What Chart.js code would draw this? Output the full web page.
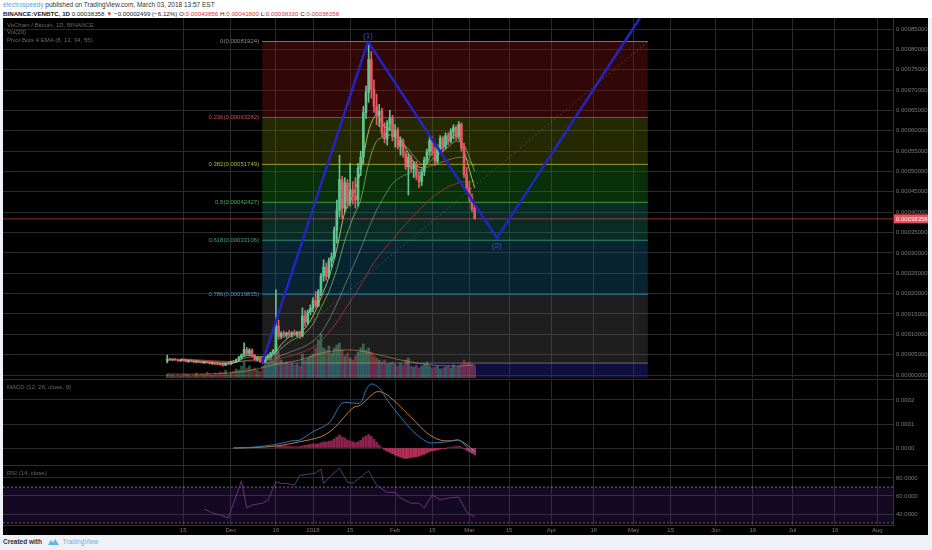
<!DOCTYPE html>
<html>
<head>
<meta charset="utf-8">
<script src="https://cdn.jsdelivr.net/npm/chart.js@4.4.1/dist/chart.umd.min.js"></script>
<style>
  html, body { margin: 0; padding: 0; }
  body { width: 932px; height: 550px; background: #eef1f5; position: relative; overflow: hidden;
         font-family: "Liberation Sans", Arial, sans-serif; }
  #hdr { position: absolute; left: 0; top: 0; width: 932px; height: 18px; background: #fff; }
  .l1 { position: absolute; left: 3px; top: 1px; font-size: 6.5px; color: #333; white-space: nowrap; }
  .l2 { position: absolute; left: 3px; top: 10px; font-size: 6.2px; color: #222; white-space: nowrap; }
  .user { color: #5a9fd8; }
  .red { color: #e0303e; }
  #panel { position: absolute; left: 3px; top: 18px; width: 925px; height: 517px; background: #000; }
  #panel canvas { position: absolute; left: 0; }
  .sep { position: absolute; left: 0; width: 925px; height: 1px; background: #2e2e2e; }
  #foot { position: absolute; left: 3px; top: 538px; font-size: 6.5px; white-space: nowrap; color: #444; }
  #foot b { color: #333; }
  #foot .tv { color: #5fb4e6; }
</style>
</head>
<body>
<div id="hdr">
  <div class="l1"><span class="user">electrospeedy</span> published on TradingView.com, March 03, 2018 13:57 EST</div>
  <div class="l2"><b>BINANCE:VENBTC, 1D</b> 0.00038358 <span class="red">&#9660;</span> &minus;0.00002499 (&minus;6.12%) O:<span class="red">0.00040856</span> H:<span class="red">0.00041800</span> L:<span class="red">0.00038330</span> C:<span class="red">0.00038358</span></div>
</div>
<div id="panel">
  <canvas id="main" width="925" height="360" style="top:0"></canvas>
  <div class="sep" style="top:361px"></div>
  <canvas id="macd" width="925" height="85" style="top:362px"></canvas>
  <div class="sep" style="top:447px"></div>
  <canvas id="rsi" width="925" height="69" style="top:448px"></canvas>
</div>
<div id="foot"><b>Created with</b>
  <svg width="11" height="6" viewBox="0 0 11 6" style="vertical-align:middle;margin:0 2px 0 4px"><path d="M0 6 L3 1 L5 4 L7 0 L11 6 Z" fill="#5fb4e6"/></svg>
  <span class="tv">TradingView</span></div>

<script>
// prices are in units of 0.00001 BTC, x values are days from 1 Jan 2018
const tickDays = [-49, -31, -14, 0, 14, 31, 45, 59, 74, 90, 106, 121, 135, 152, 166, 181, 197, 213];
const tickLabels = ['15', 'Dec', '16', '2018', '15', 'Feb', '15', 'Mar', '15', 'Apr', '16', 'May', '15', 'Jun', '16', 'Jul', '16', 'Aug'];
const priceTicks = [0, 5, 10, 15, 20, 25, 30, 35, 40, 45, 50, 55, 60, 65, 70, 75, 80, 85];
const macdTicks = [0, 10, 20];
const rsiTicks = [40, 60, 80];

// daily candles, first one on day -55
const firstDay = -55;
const candleOpen = [
  3.4, 3.9, 3.7, 3.8, 3.7, 3.5, 3.6, 3.5, 3.3, 3.5,
  3.3, 3.2, 3.3, 3.1, 3.0, 3.1, 3.0, 2.8, 2.9, 2.7,
  2.6, 2.5, 2.4, 2.8, 2.7, 3.3, 3.2, 3.8, 4.3, 4.9,
  6.3, 5.3, 6.1, 4.8, 3.9, 4.1, 3.4, 3.2, 4.2, 4.6,
  5.4, 5.9, 12.0, 9.5, 10.2, 9.8, 10.3, 9.9, 10.4, 9.9,
  10.3, 9.6, 14.5, 13.0, 15.5, 16.4, 18.3, 17.0, 20.5, 24.3,
  26.5, 24.2, 28.0, 29.0, 35.5, 40.5, 48.0, 41.0, 47.2, 42.5,
  45.5, 44.0, 43.0, 50.8, 53.5, 64.5, 69.5, 77.5, 70.2, 66.0,
  63.8, 64.8, 59.5, 58.0, 61.8, 63.2, 58.5, 60.2, 56.2, 57.5,
  54.3, 51.2, 53.5, 50.6, 51.8, 48.8, 47.5, 50.0, 52.8, 54.8,
  57.6, 55.0, 52.5, 55.8, 58.2, 56.0, 58.8, 57.5, 59.8, 60.8,
  58.6, 61.6, 55.8, 49.2, 46.0, 43.6, 40.856
];
const candleHigh = [
  4.9, 4.1, 3.9, 4.0, 3.9, 3.8, 3.8, 3.7, 3.6, 3.7,
  3.5, 3.4, 3.5, 3.3, 3.2, 3.3, 3.2, 3.0, 3.1, 2.9,
  2.8, 2.7, 2.9, 3.2, 3.4, 3.6, 3.9, 4.6, 5.2, 7.9,
  6.8, 6.5, 6.4, 5.1, 4.4, 4.3, 3.8, 4.4, 5.0, 5.6,
  6.3, 20.9, 13.5, 10.6, 10.8, 10.5, 10.9, 10.6, 11.0, 10.7,
  10.8, 16.5, 15.8, 16.0, 17.2, 19.0, 20.5, 21.0, 25.0, 28.3,
  27.5, 28.7, 30.0, 36.4, 43.0, 54.0, 48.8, 48.5, 48.0, 52.0,
  47.5, 48.5, 52.0, 55.0, 66.0, 71.0, 81.924, 79.5, 72.5, 69.0,
  66.5, 65.5, 62.0, 62.5, 65.0, 63.8, 61.5, 60.8, 58.5, 58.0,
  55.0, 54.5, 54.0, 52.5, 52.5, 50.0, 50.5, 53.5, 55.5, 58.5,
  58.5, 56.0, 56.5, 58.8, 58.6, 59.5, 59.5, 60.5, 61.5, 61.2,
  62.3, 62.0, 57.0, 51.0, 47.5, 44.5, 41.8
];
const candleLow = [
  3.0, 3.6, 3.5, 3.6, 3.4, 3.3, 3.4, 3.2, 3.1, 3.2,
  3.0, 3.0, 3.0, 2.9, 2.8, 2.9, 2.7, 2.6, 2.6, 2.5,
  2.4, 2.2, 2.3, 2.6, 2.6, 3.0, 3.0, 3.5, 4.0, 4.6,
  5.0, 4.8, 4.5, 3.6, 3.4, 3.1, 2.93, 3.1, 3.9, 4.3,
  5.0, 5.7, 8.8, 8.9, 9.3, 9.2, 9.5, 9.3, 9.6, 9.4,
  9.0, 9.3, 12.0, 12.5, 14.8, 15.5, 16.5, 16.8, 19.5, 23.0,
  23.3, 23.8, 26.5, 28.5, 32.4, 38.8, 38.5, 40.0, 41.0, 41.5,
  42.0, 41.0, 41.5, 49.0, 52.0, 63.0, 67.0, 68.0, 64.5, 61.5,
  61.0, 58.5, 57.0, 56.5, 60.0, 57.5, 56.0, 55.5, 54.0, 53.5,
  50.5, 44.2, 50.0, 48.5, 48.0, 46.0, 46.5, 49.0, 52.0, 54.0,
  54.0, 51.5, 52.0, 55.0, 54.8, 55.5, 56.5, 57.0, 58.0, 57.8,
  58.0, 55.0, 48.5, 45.0, 42.5, 40.2, 38.33
];
const candleClose = [
  3.9, 3.7, 3.8, 3.7, 3.5, 3.6, 3.5, 3.3, 3.5, 3.3,
  3.2, 3.3, 3.1, 3.0, 3.1, 3.0, 2.8, 2.9, 2.7, 2.6,
  2.5, 2.4, 2.8, 2.7, 3.3, 3.2, 3.8, 4.3, 4.9, 6.3,
  5.3, 6.1, 4.8, 3.9, 4.1, 3.4, 3.2, 4.2, 4.6, 5.4,
  5.9, 12.0, 9.5, 10.2, 9.8, 10.3, 9.9, 10.4, 9.9, 10.3,
  9.6, 14.5, 13.0, 15.5, 16.4, 18.3, 17.0, 20.5, 24.3, 26.5,
  24.2, 28.0, 29.0, 35.5, 40.5, 48.0, 41.0, 47.2, 42.5, 45.5,
  44.0, 43.0, 50.8, 53.5, 64.5, 69.5, 77.5, 70.2, 66.0, 63.8,
  64.8, 59.5, 58.0, 61.8, 63.2, 58.5, 60.2, 56.2, 57.5, 54.3,
  51.2, 53.5, 50.6, 51.8, 48.8, 47.5, 50.0, 52.8, 54.8, 57.6,
  55.0, 52.5, 55.8, 58.2, 56.0, 58.8, 57.5, 59.8, 60.8, 58.6,
  61.6, 55.8, 49.2, 46.0, 43.6, 40.856, 38.358
];
const volume = [
  4, 3, 3, 2, 3, 2, 3, 4, 3, 2, 3, 5, 3, 4, 3, 6, 4, 3, 5, 4, 6, 5, 8, 4, 5,
  7, 9, 8, 12, 16, 10, 12, 9, 10, 8, 7, 12,
  14, 16, 20, 18, 34, 26, 18, 15, 16, 14, 15, 13, 14, 12,
  24, 18, 20, 22, 24, 30, 38, 44, 30, 28, 32, 25, 30, 33, 35,
  28, 22, 25, 20, 18, 22, 26, 30, 34, 28, 30, 26, 22, 20, 18, 16, 18, 14, 15, 16,
  14, 12, 15, 13, 18, 20, 12, 11, 13, 10, 12, 14, 16, 12, 10, 11, 12, 9, 10, 11, 12, 10, 13, 11, 12, 14, 18, 15, 16, 14, 12
];
const volMaDays = [-55, -40, -25, -15, -5, 5, 15, 25, 35, 45, 55, 61];
const volMa = [4, 4, 7, 13, 18, 26, 28, 23, 17, 13, 12, 13];

// EMA (8, 13, 34, 55)
const maDays = [-50, -40, -30, -25, -20, -15, -12, -8, -4, 0, 3, 6, 9, 12, 15, 18, 21, 24, 27, 30, 33, 36, 39, 42, 45, 48, 51, 54, 57, 59, 61];
const ema8 = [3.7, 3.1, 2.9, 4.8, 4.4, 5.0, 7.5, 9.8, 10.8, 14.5, 19, 24, 31, 40, 44, 50, 60, 64, 61, 60, 58, 54.5, 51.5, 51, 54.5, 55.5, 57.3, 59, 55, 50.5, 46];
const ema13 = [3.8, 3.2, 3.0, 4.3, 4.4, 4.6, 6.5, 8.5, 9.8, 12.5, 16.5, 20.5, 26, 33, 38.5, 43, 52, 57.5, 58.5, 59, 57.5, 55.5, 53, 51.5, 53, 54.5, 56, 57.5, 56.5, 53.5, 50];
const ema34 = [3.9, 3.4, 3.1, 3.6, 3.8, 4.0, 4.8, 5.8, 6.8, 8.3, 10.3, 13.5, 17.5, 22, 26.5, 31, 36, 40.5, 44, 47, 48.6, 49.5, 50.2, 50.8, 51.5, 52.2, 52.8, 53.4, 53.4, 52.5, 51.3];
const ema55 = [4.0, 3.6, 3.3, 3.4, 3.5, 3.6, 4.1, 4.8, 5.6, 6.8, 8.3, 10.5, 13, 16, 19, 22, 25.5, 28.5, 31, 33.2, 35.6, 37.8, 39.8, 41.8, 43.6, 45, 46.2, 47, 47.5, 47.6, 47.6];

// fibonacci retracement
const fibStart = -19.2, fibEnd = 126.4;
const fibRatios = ['0', '0.236', '0.382', '0.5', '0.618', '0.786', '1'];
const fibLevels = [81.924, 63.282, 51.749, 42.427, 33.106, 19.835, 2.93];

// wave drawing (1)-(2)
const waveDays = [-19.2, 20.75, 69.4, 123.4];
const waveValues = [2.93, 81.924, 33.66, 87.7];
const waveLabels = ['', '(1)', '(2)', ''];

// MACD (12, 26, close, 9), units of 0.00001
const macdDays = [-30, -22, -14, -8, -5, 0, 6, 11, 15, 18, 20, 22, 25, 28, 33, 38, 43, 45, 50, 55, 58, 60, 61];
const macdLine = [0.0, 0.4, 1.5, 3.0, 3.3, 6.8, 10.4, 18.7, 18.7, 18.9, 24.2, 26.7, 25.0, 20.0, 12.9, 6.7, 2.5, 2.1, 2.5, 3.3, 0.4, -1.7, -2.0];
const signalDays = [-30, -22, -14, -5, 3, 8, 15, 18, 23, 25, 28, 33, 38, 43, 48, 53, 55, 59, 61];
const signalLine = [0.0, 0.2, 0.8, 2.6, 4.7, 8.3, 16.7, 17.9, 22.9, 23.5, 22.1, 17.2, 11.7, 6.25, 3.3, 3.0, 3.3, 0.54, -1.5];
const histFirstDay = -14;
const macdHist = [
  0.3, 0.8, 0.9, 0.9, 0.8, 0.7, 0.6, 0.5, 0.5, 0.6,
  0.9, 1.1, 1.3, 1.5, 1.7,
  1.6, 1.8, 2.2, 2.6, 2.5, 2.8, 3.0, 3.8, 4.6, 5.4,
  4.6, 4.2, 3.4, 3.0, 2.6, 2.2, 2.6, 3.2, 4.4, 5.0,
  5.6, 4.8, 3.6, 2.4, 1.2, 0.2, -0.8, -1.4, -1.8, -2.4,
  -3.0, -3.4, -3.8, -4.2, -4.4, -4.2, -4.0, -3.8, -3.6, -3.4,
  -3.0, -2.6, -2.0, -1.5, -1.2, -1.0, -0.8, -0.5, -0.3, -0.1,
  0.2, 0.4, 0.5, 0.6, 0.7, 0.4, -0.3, -1.0, -1.6, -2.2, -2.8
];

// RSI (14, close)
const rsiDays = [-41, -38, -35, -32, -30, -27, -25, -23, -19, -17, -14, -12, -10, -7, -5, -2, 1, 3, 4, 7, 10, 13, 15, 18, 21, 24, 28, 31, 33, 37, 40, 42, 45, 48, 51, 55, 58, 61];
const rsiValues = [45.6, 41, 39, 35.5, 52, 76.7, 46.7, 50, 52, 55.6, 75.6, 74, 74, 72, 83, 84, 85.6, 90, 74, 83, 91, 75.6, 74, 81, 87.8, 72, 64, 64, 57.8, 52, 52, 46.7, 61, 55.6, 57.8, 58.9, 42, 36.7];
const rsiBands = [70, 30];

// ---------------------------------------------------------------
const xMin = -117, xMax = 218.9;
const gridColor = '#2a2a2a';
const axisText = '#7a7a7a';
const upColor = '#5fc490', downColor = '#e65a66';
const fibLineColors = ['#7a7a7a', '#b83c3c', '#9a9a2a', '#3a9a3a', '#2e8a70', '#2e7898', '#6a6a6a'];
const fibBandColors = ['rgba(150,22,22,0.33)', 'rgba(120,135,12,0.3)', 'rgba(25,140,25,0.34)', 'rgba(30,150,120,0.3)',
                       'rgba(25,110,150,0.33)', 'rgba(100,100,100,0.3)', 'rgba(40,40,175,0.36)'];
const fibLabelColors = ['#8a8a8a', '#d04848', '#b4b43c', '#4cb44c', '#38a888', '#4a94c4', null];

Chart.defaults.font.family = '"Liberation Sans", Arial, sans-serif';
Chart.defaults.animation = false;

const pts = (xs, ys) => xs.map((x, i) => ({ x, y: ys[i] }));
const lastClose = candleClose[candleClose.length - 1];

function xScale(showLabels) {
  return {
    type: 'linear', min: xMin, max: xMax, offset: false,
    afterBuildTicks: s => { s.ticks = tickDays.map(v => ({ value: v })); },
    grid: { color: gridColor, drawTicks: false, offset: false },
    border: { display: showLabels, color: '#333' },
    ticks: { display: showLabels, autoSkip: false, maxRotation: 0, color: axisText, font: { size: 6 }, padding: 2,
             callback: (v, i) => tickLabels[i] },
    afterFit: s => { s.height = showLabels ? 10 : 0; s.paddingLeft = 0; s.paddingRight = 0; }
  };
}

function yScale(min, max, tickVals, fmt) {
  return {
    position: 'right', min, max,
    afterBuildTicks: s => { s.ticks = tickVals.map(v => ({ value: v })); },
    grid: { color: gridColor, drawTicks: false },
    border: { color: '#333' },
    ticks: { color: axisText, font: { size: 6 }, padding: 3, callback: fmt },
    afterFit: s => { s.width = 35; s.paddingTop = 0; s.paddingBottom = 0; }
  };
}

const paneTitle = {
  id: 'paneTitle',
  afterDatasetsDraw(chart, args, opts) {
    const { ctx, chartArea } = chart;
    ctx.save();
    ctx.font = '6px "Liberation Sans", Arial, sans-serif';
    ctx.fillStyle = '#6a6a6a';
    ctx.textAlign = 'left';
    ctx.textBaseline = 'middle';
    (opts.lines || []).forEach((t, i) => ctx.fillText(t, chartArea.left + 4, chartArea.top + 7 + i * 7.5));
    ctx.restore();
  }
};

const mainOverlay = {
  id: 'mainOverlay',
  afterDatasetsDraw(chart) {
    const { ctx, scales: { x, y } } = chart;
    ctx.save();
    ctx.font = '6px "Liberation Sans", Arial, sans-serif';
    ctx.textAlign = 'right';
    ctx.textBaseline = 'middle';
    fibLevels.forEach((lv, i) => {
      if (!fibLabelColors[i]) return;
      ctx.fillStyle = fibLabelColors[i];
      ctx.fillText(fibRatios[i] + '(' + (lv / 1e5).toFixed(8) + ')', x.getPixelForValue(fibStart) - 3, y.getPixelForValue(lv));
    });
    ctx.font = '8px "Liberation Sans", Arial, sans-serif';
    ctx.textAlign = 'center';
    ctx.fillStyle = '#4450c4';
    waveLabels.forEach((t, i) => {
      if (!t) return;
      const up = i === 1;
      ctx.fillText(t, x.getPixelForValue(waveDays[i]), y.getPixelForValue(waveValues[i]) + (up ? -6 : 8));
    });
    ctx.restore();
  },
  afterDraw(chart) {
    const { ctx, scales: { y } } = chart;
    const yy = y.getPixelForValue(lastClose);
    ctx.save();
    ctx.fillStyle = '#e8505c';
    ctx.fillRect(y.left + 1, yy - 4.5, 34, 9);
    ctx.fillStyle = '#fff';
    ctx.font = '6px "Liberation Sans", Arial, sans-serif';
    ctx.textAlign = 'left';
    ctx.textBaseline = 'middle';
    ctx.fillText((lastClose / 1e5).toFixed(8), y.left + 3, yy);
    ctx.restore();
  }
};

// ---------- main pane ----------
const candleX = candleOpen.map((o, i) => firstDay + i);
const isUp = candleClose.map((c, i) => c >= candleOpen[i]);
const line = (data, color, extra) => Object.assign({
  type: 'line', data, borderColor: color, borderWidth: 1, pointRadius: 0, tension: 0.3, fill: false
}, extra || {});

const mainSets = [
  line(pts(waveDays, waveValues), '#2424c4', { borderWidth: 2.5, tension: 0, order: 0 }),
  line(pts([fibStart, fibEnd], [fibLevels[6], fibLevels[0]]), 'rgba(170,170,170,0.5)', { borderDash: [1, 3], tension: 0, order: 1 }),
  { type: 'bar', data: candleX.map((x, i) => ({ x, y: [candleOpen[i], candleClose[i]] })), yAxisID: 'y',
    backgroundColor: isUp.map(u => u ? upColor : downColor), barThickness: 2, minBarLength: 1, grouped: false, order: 2 },
  { type: 'bar', data: candleX.map((x, i) => ({ x, y: [candleLow[i], candleHigh[i]] })), yAxisID: 'y',
    backgroundColor: isUp.map(u => u ? upColor : downColor), barThickness: 1, grouped: false, order: 3 },
  line(pts(maDays, ema8), 'rgba(225,215,90,0.8)', { order: 4 }),
  line(pts(maDays, ema13), 'rgba(140,200,100,0.7)', { order: 4 }),
  line(pts(maDays, ema34), 'rgba(165,175,155,0.55)', { order: 4 }),
  line(pts(maDays, ema55), 'rgba(170,50,55,0.85)', { order: 4 }),
  line(pts(volMaDays, volMa), 'rgba(230,160,90,0.5)', { yAxisID: 'yVol', order: 5 }),
  { type: 'bar', data: candleX.map((x, i) => ({ x, y: volume[i] })), yAxisID: 'yVol',
    backgroundColor: isUp.map(u => u ? 'rgba(98,201,149,0.42)' : 'rgba(236,90,102,0.42)'), barThickness: 2, grouped: false, order: 6 },
  line(pts([xMin, xMax], [lastClose, lastClose]), 'rgba(235,77,92,0.6)', { tension: 0, order: 7 })
];
fibLevels.forEach((lv, i) => {
  mainSets.push(line(pts([fibStart, fibEnd], [lv, lv]), fibLineColors[i], {
    tension: 0, order: 10, backgroundColor: fibBandColors[i],
    fill: i < fibLevels.length - 1 ? '+1' : 'start'
  }));
});

new Chart(document.getElementById('main'), {
  type: 'line',
  data: { datasets: mainSets },
  options: {
    responsive: false,
    layout: { padding: 0 },
    plugins: {
      legend: { display: false }, tooltip: { enabled: false },
      filler: { drawTime: 'beforeDatasetsDraw' },
      paneTitle: { lines: ['VeChain / Bitcoin, 1D, BINANCE', 'Vol(20)', 'Pivot Bots 4 EMA (8, 13, 34, 55)'] }
    },
    scales: {
      x: xScale(false),
      y: yScale(-0.737, 87.71, priceTicks, v => (v / 1e5).toFixed(8)),
      yVol: { display: false, min: 0, max: 360 }
    }
  },
  plugins: [paneTitle, mainOverlay]
});

// ---------- MACD pane ----------
new Chart(document.getElementById('macd'), {
  type: 'line',
  data: {
    datasets: [
      line(pts(macdDays, macdLine), 'rgba(50,130,210,0.9)', { order: 0 }),
      line(pts(signalDays, signalLine), 'rgba(215,135,60,0.9)', { order: 1 }),
      { type: 'bar', data: macdHist.map((v, i) => ({ x: histFirstDay + i, y: v })),
        backgroundColor: macdHist.map(v => v >= 0 ? 'rgba(165,40,90,0.85)' : 'rgba(210,55,105,0.85)'),
        barThickness: 2, grouped: false, order: 2 }
    ]
  },
  options: {
    responsive: false,
    layout: { padding: 0 },
    plugins: { legend: { display: false }, tooltip: { enabled: false },
               paneTitle: { lines: ['MACD (12, 26, close, 9)'] } },
    scales: { x: xScale(false), y: yScale(-7.08, 28.33, macdTicks, v => (v / 1e5).toFixed(4)) }
  },
  plugins: [paneTitle]
});

// ---------- RSI pane ----------
new Chart(document.getElementById('rsi'), {
  type: 'line',
  data: {
    datasets: [
      line(pts(rsiDays, rsiValues), 'rgba(120,62,150,0.8)', { tension: 0, order: 0 }),
      line(pts([xMin, xMax], [rsiBands[0], rsiBands[0]]), 'rgba(200,200,225,0.5)',
           { tension: 0, borderDash: [2, 2], fill: '+1', backgroundColor: 'rgba(115,45,190,0.18)', order: 1 }),
      line(pts([xMin, xMax], [rsiBands[1], rsiBands[1]]), 'rgba(200,200,225,0.5)',
           { tension: 0, borderDash: [2, 2], order: 1 })
    ]
  },
  options: {
    responsive: false,
    layout: { padding: 0 },
    plugins: { legend: { display: false }, tooltip: { enabled: false },
               filler: { drawTime: 'beforeDatasetsDraw' },
               paneTitle: { lines: ['RSI (14, close)'] } },
    scales: { x: xScale(true), y: yScale(27.78, 93.33, rsiTicks, v => v.toFixed(4)) }
  },
  plugins: [paneTitle]
});
</script>
</body>
</html>
